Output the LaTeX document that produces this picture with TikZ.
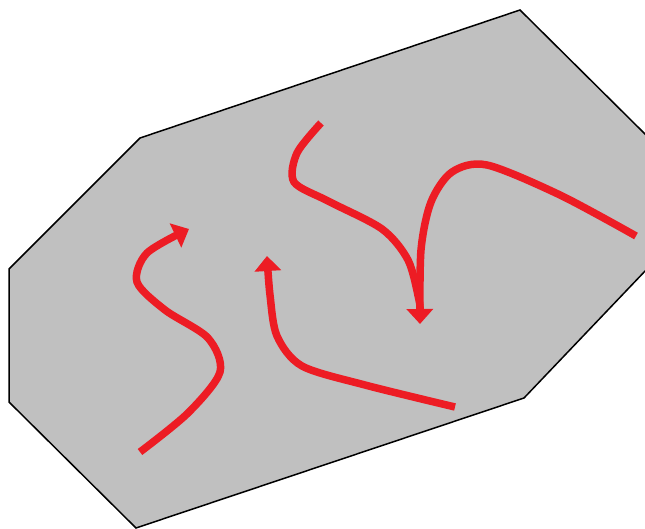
\documentclass[tikz,border=0pt]{standalone}
\usetikzlibrary{arrows.meta}
\definecolor{paintred}{HTML}{ED1C24}
\definecolor{paintgray}{HTML}{C0C0C0}
\tikzset{
  flowline/.style={draw=paintred, line width=7.5pt},
  flowhead/.style={-{Triangle[length=15pt,width=26pt]}},
}
\begin{document}
\begin{tikzpicture}[x=1pt,y=-1pt]
    % Rahmen
    \useasboundingbox (0,0) rectangle (645,529);
    \clip (0,0) rectangle (645,529);
    % Gebiet (Achteck)
    \coordinate (cA) at (520,10);
    \coordinate (cB) at (647,136);
    \coordinate (cC) at (647,269);
    \coordinate (cD) at (524,398);
    \coordinate (cE) at (136,528);
    \coordinate (cF) at (9,402);
    \coordinate (cG) at (9,269);
    \coordinate (cH) at (140,138);
    \draw[fill=paintgray, line width=1.5pt] (cA) -- (cB) -- (cC) -- (cD) -- (cE) -- (cF) -- (cG) -- (cH) -- cycle;
    % Strom links
    \draw[flowline, flowhead] plot[smooth] coordinates {(140,452) (188,413) (220,372) (208,338) (165,310) (137,282) (147,253) (189,229)};
    % Strom Mitte
    \draw[flowline, flowhead] plot[smooth] coordinates {(455,407) (365,385) (302,366) (277,336) (270,295) (267,256)};
    % Strom oben
    \draw[flowline] plot[smooth] coordinates {(321,123) (297,153) (294,182) (328,201) (382,229) (408,260) (419,300) (420,312)};
    % Strom rechts
    \draw[flowline, flowhead] plot[smooth] coordinates {(636,236) (560,195) (487,165) (452,172) (431,202) (421,250) (420,324)};
\end{tikzpicture}
\end{document}
